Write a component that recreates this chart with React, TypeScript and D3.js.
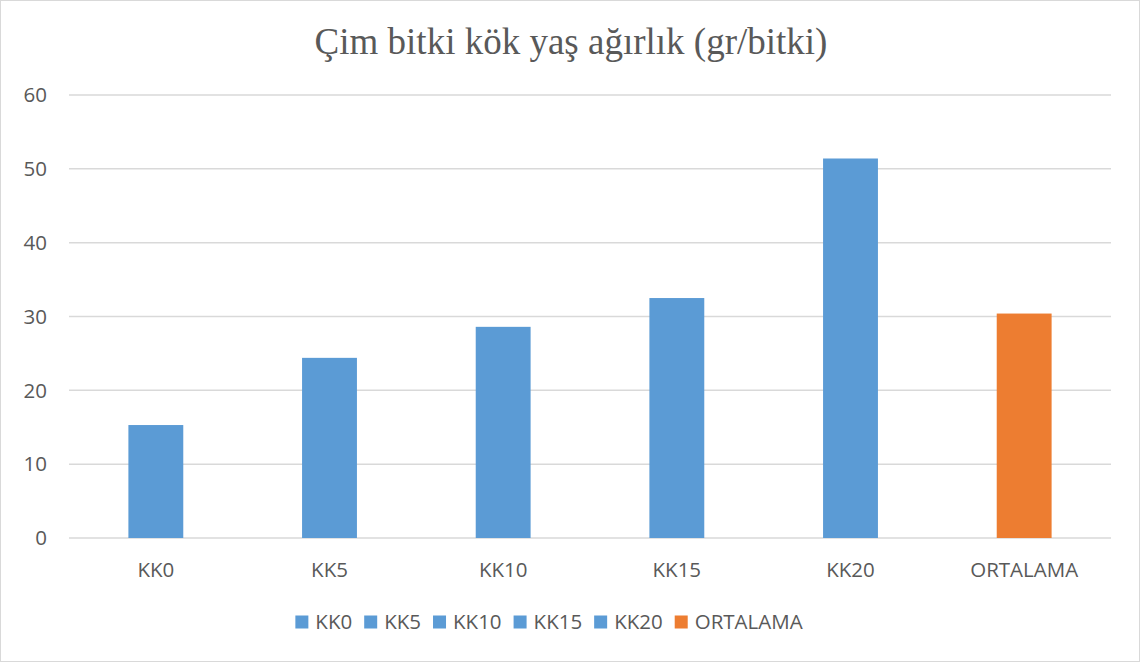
import React, { useEffect, useRef } from "react";
import * as d3 from "d3";

const categories = ["KK0", "KK5", "KK10", "KK15", "KK20", "ORTALAMA"];
const values = [15.3, 24.4, 28.6, 32.5, 51.4, 30.4];
const yTicks = [0, 10, 20, 30, 40, 50, 60];
const title = "Çim bitki kök yaş ağırlık (gr/bitki)";

const W = 1140;
const H = 662;
const BLUE = "#5B9BD5";
const ORANGE = "#ED7D31";
const TEXT = "#595959";
const FONT = "'Open Sans', sans-serif";
const FS = 20.5;

export default function App() {
  const ref = useRef<SVGSVGElement>(null);

  useEffect(() => {
    const svg = d3.select(ref.current);
    svg.selectAll("*").remove();

    svg.append("rect").attr("x", 0.5).attr("y", 0.5).attr("width", W - 1).attr("height", H - 1)
      .attr("fill", "#fff").attr("stroke", "#d9d9d9");

    const x = d3.scaleBand().domain(categories).range([69, 1111]).paddingInner(0.684).paddingOuter(0.342);
    const y = d3.scaleLinear().domain([0, 60]).range([538, 95]);

    svg.append("text").attr("x", 571).attr("y", 54).attr("text-anchor", "middle")
      .attr("font-family", "'Liberation Serif', 'Times New Roman', serif").attr("font-size", 37)
      .attr("fill", TEXT).text(title);

    const grid = svg.append("g");
    grid.selectAll("line").data(yTicks).join("line")
      .attr("x1", 69).attr("x2", 1111)
      .attr("y1", (d) => y(d)).attr("y2", (d) => y(d))
      .attr("stroke", "#d9d9d9").attr("stroke-width", 1.5);

    svg.append("g").selectAll("text").data(yTicks).join("text")
      .attr("x", 47).attr("y", (d) => y(d)).attr("text-anchor", "end").attr("dy", "0.35em")
      .attr("font-family", FONT).attr("font-size", FS).attr("fill", TEXT)
      .text((d) => String(d));

    svg.append("g").selectAll("rect").data(categories).join("rect")
      .attr("x", (d) => x(d)!).attr("width", x.bandwidth())
      .attr("y", (d, i) => y(values[i])).attr("height", (d, i) => y(0) - y(values[i]))
      .attr("fill", (d, i) => (i === categories.length - 1 ? ORANGE : BLUE));

    svg.append("g").selectAll("text").data(categories).join("text")
      .attr("x", (d) => x(d)! + x.bandwidth() / 2).attr("y", 570).attr("dy", "0.35em")
      .attr("text-anchor", "middle").attr("font-family", FONT).attr("font-size", FS).attr("fill", TEXT)
      .text((d) => d);

    // legend
    const lg = svg.append("g");
    const items = categories.map((c, i) => {
      const g = lg.append("g");
      g.append("rect").attr("width", 13).attr("height", 13).attr("y", -6.5)
        .attr("fill", i === categories.length - 1 ? ORANGE : BLUE);
      const t = g.append("text").attr("x", 20).attr("dy", "0.35em").attr("font-family", FONT)
        .attr("font-size", FS).attr("fill", TEXT).text(c);
      const w = (t.node() as SVGTextElement).getComputedTextLength();
      return { g, w: 20 + w };
    });
    const gap = 12;
    const total = items.reduce((s, it) => s + it.w, 0) + gap * (items.length - 1);
    let cx = 549 - total / 2;
    items.forEach((it) => {
      it.g.attr("transform", `translate(${cx},622)`);
      cx += it.w + gap;
    });
  }, []);

  return (
    <div style={{ position: "absolute", left: 0, top: 0 }}>
      <svg ref={ref} width={W} height={H} style={{ display: "block" }} />
    </div>
  );
}
